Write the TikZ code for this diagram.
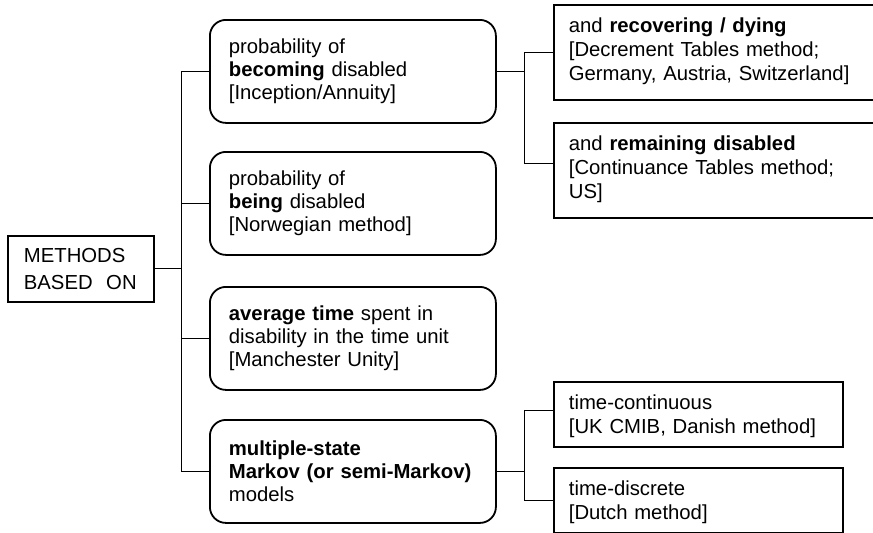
\documentclass[tikz,border=0pt]{standalone}
\usepackage{fontspec}
\setmainfont{Liberation Sans}

\tikzset{
  base/.style={draw, line width=0.9pt, align=left, anchor=north west,
    font=\fontsize{10.15}{11.5}\selectfont},
  rootbox/.style={base, text width=57pt, inner xsep=8pt, minimum height=33pt,
    font=\fontsize{10.15}{13.5}\selectfont},
  methodbox/.style={base, rounded corners=8pt, text width=124pt, inner xsep=9.5pt,
    minimum height=51.5pt},
  % detail boxes keep their text at the top
  detailbox/.style={base, inner xsep=7.5pt, inner ysep=0pt, text height=14pt,
    font=\fontsize{10.15}{12}\selectfont},
  tallbox/.style={detailbox, text width=148.5pt, text depth=33.5pt},
  shortbox/.style={detailbox, text width=129.5pt, text depth=18.5pt},
  link/.style={line width=0.5pt}
}

\begin{document}
\begin{tikzpicture}[x=0.5pt,y=-0.5pt]
  \useasboundingbox (0,0) rectangle (873,532);
  \clip (0,0) rectangle (873,532);

  % root
  \node[rootbox] (root) at (7,235) {METHODS\\BASED\ \ ON};

  % the four methods
  \node[methodbox] (becoming) at (209,19)
    {probability of\\\textbf{becoming} disabled\\{[}Inception/Annuity]};
  \node[methodbox] (being) at (209,151)
    {probability of\\\textbf{being} disabled\\{[}Norwegian method]};
  \node[methodbox] (avgtime) at (209,286)
    {\textbf{average time} spent in\\disability in the time unit\\{[}Manchester Unity]};
  \node[methodbox] (markov) at (209,419)
    {\textbf{multiple-state}\\\textbf{Markov (or semi-Markov)}\\models};

  % refinements
  \node[tallbox] (decrement) at (553,4)
    {and \textbf{recovering / dying}\\{[}Decrement Tables method;\\Germany, Austria, Switzerland]};
  \node[tallbox] (continuance) at (553,122)
    {and \textbf{remaining disabled}\\{[}Continuance Tables method;\\US]};
  \node[shortbox] (continuous) at (553,381)
    {time-continuous\\{[}UK CMIB, Danish method]};
  \node[shortbox] (discrete) at (553,467)
    {time-discrete\\{[}Dutch method]};

  % tree lines
  \foreach \m in {becoming,being,avgtime,markov}
    \draw[link] (root.east) -- ++(27,0) |- (\m.west);
  \draw[link] (becoming.east) -- ++(28,0) |- (decrement.west);
  \draw[link] (becoming.east) -- ++(28,0) |- ([yshift=3.25pt]continuance.west);
  \draw[link] (markov.east) -- ++(28,0) |- ([yshift=2pt]continuous.west);
  \draw[link] (markov.east) -- ++(28,0) |- (discrete.west);
\end{tikzpicture}
\end{document}
